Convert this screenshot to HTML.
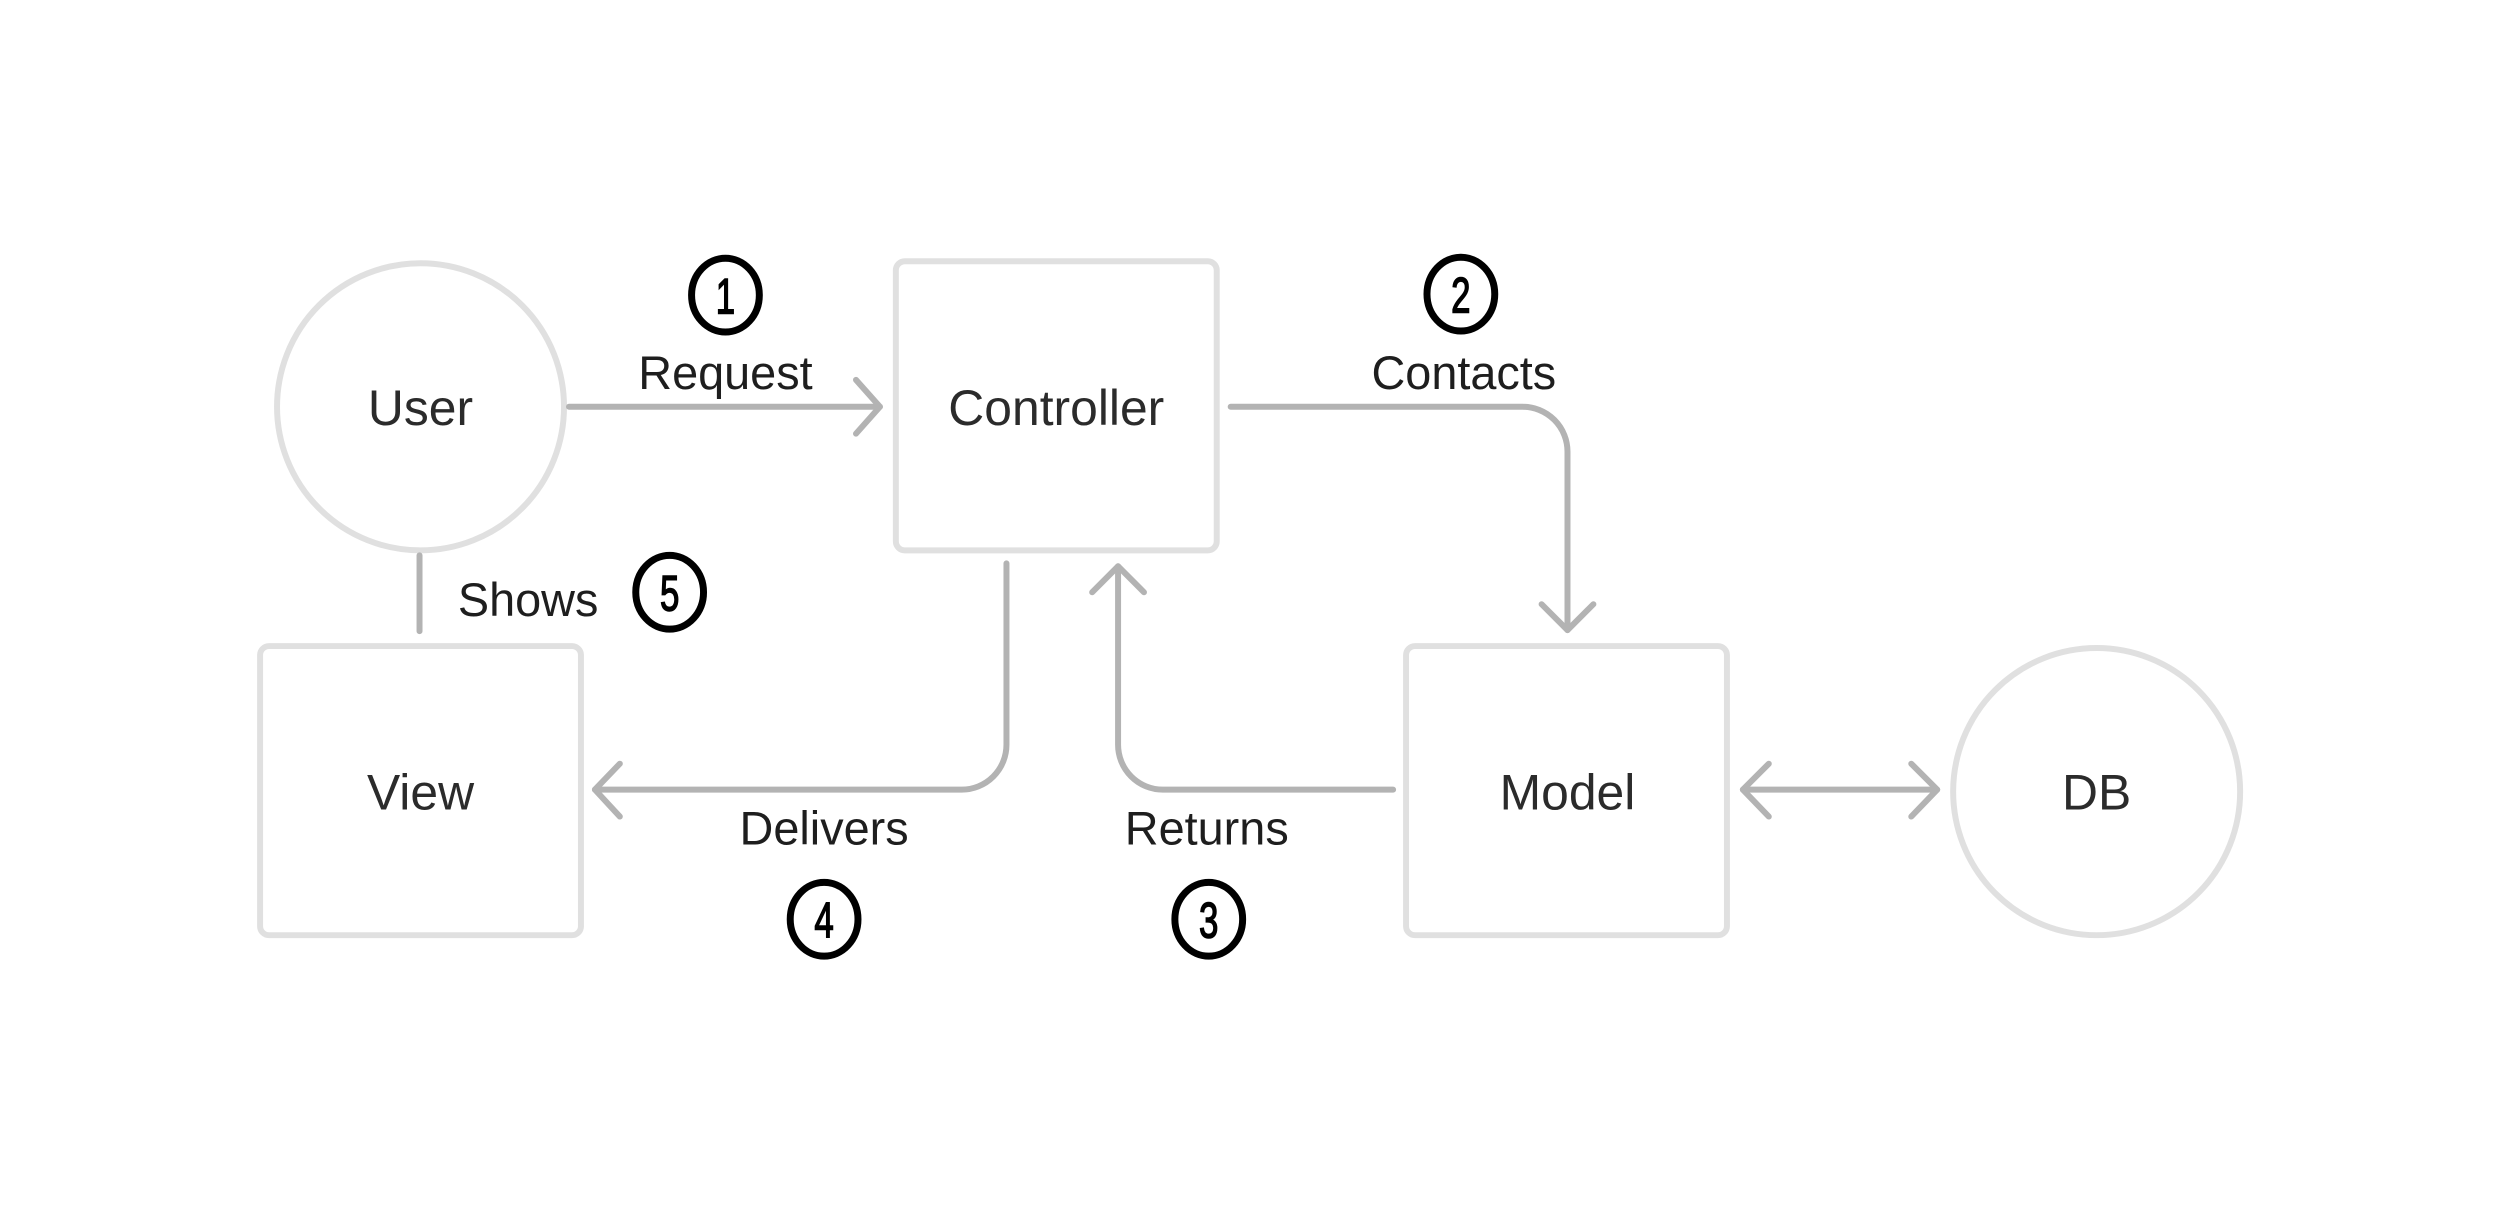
<!DOCTYPE html>
<html><head><meta charset="utf-8"><style>
html,body{margin:0;padding:0;background:#fff;}
svg{display:block;}
text{font-family:"Liberation Sans",sans-serif;}
</style></head><body>
<svg width="2500" height="1213" viewBox="0 0 2500 1213" xmlns="http://www.w3.org/2000/svg">
<rect width="2500" height="1213" fill="#fff"/>
<g transform="scale(0.9965 0.997)">
<g fill="none" stroke="#e0e0e0" stroke-width="6">
<circle cx="422" cy="408" r="144"/>
<rect x="899" y="262" width="322" height="290" rx="9"/>
<rect x="261" y="648" width="322" height="290" rx="9"/>
<rect x="1411" y="648" width="322" height="290" rx="9"/>
<circle cx="2104" cy="794" r="144"/>
</g>
<g fill="none" stroke="#b3b3b3" stroke-width="6" stroke-linecap="round" stroke-linejoin="round">
<path d="M571 408 H883"/><path d="M859 381 L883 408 L859 435"/>
<path d="M1235 408 H1528 A45 45 0 0 1 1573 453 V632"/><path d="M1547 606 L1573 632 L1599 606"/>
<path d="M1010 565 V747 A45 45 0 0 1 965 792 H597"/><path d="M622 766 L597 792 L622 819"/>
<path d="M1398 792 H1167 A45 45 0 0 1 1122 747 V568"/><path d="M1096 594 L1122 568 L1148 594"/>
<path d="M1749 792 H1944"/><path d="M1775 766 L1749 792 L1775 819"/><path d="M1918 766 L1944 792 L1918 819"/>
<path d="M421 557 V633"/>
</g>
<g fill="#2b2b2b" font-size="50" text-anchor="middle" dominant-baseline="central">
<text x="422" y="409">User</text>
<text x="1060" y="409">Controller</text>
<text x="422" y="795">View</text>
<text x="1573" y="795">Model</text>
<text x="2104" y="795">DB</text>
</g>
<g fill="#1e1e1e" font-size="47" text-anchor="middle" dominant-baseline="central">
<text x="728" y="374">Request</text>
<text x="1469" y="374">Contacts</text>
<text x="530" y="602">Shows</text>
<text x="827" y="831">Delivers</text>
<text x="1211" y="831">Returns</text>
</g>
<g fill="none" stroke="#000" stroke-width="7">
<ellipse cx="728" cy="296" rx="34" ry="37"/>
<ellipse cx="1466" cy="295" rx="34" ry="37"/>
<ellipse cx="672" cy="594" rx="34" ry="37"/>
<ellipse cx="827" cy="922" rx="34" ry="37"/>
<ellipse cx="1213" cy="922" rx="34" ry="37"/>
</g>
<g fill="#000" font-size="50" text-anchor="middle" dominant-baseline="central" stroke="#000" stroke-width="1.5">
<text x="728" y="298" transform="translate(728 298) scale(0.7 1) translate(-728 -298)">1</text>
<text x="1466" y="297" transform="translate(1466 297) scale(0.7 1) translate(-1466 -297)">2</text>
<text x="672" y="596" transform="translate(672 596) scale(0.7 1) translate(-672 -596)">5</text>
<text x="827" y="924" transform="translate(827 924) scale(0.7 1) translate(-827 -924)">4</text>
<text x="1213" y="924" transform="translate(1213 924) scale(0.7 1) translate(-1213 -924)">3</text>
</g>
</g>
</svg>
</body></html>
